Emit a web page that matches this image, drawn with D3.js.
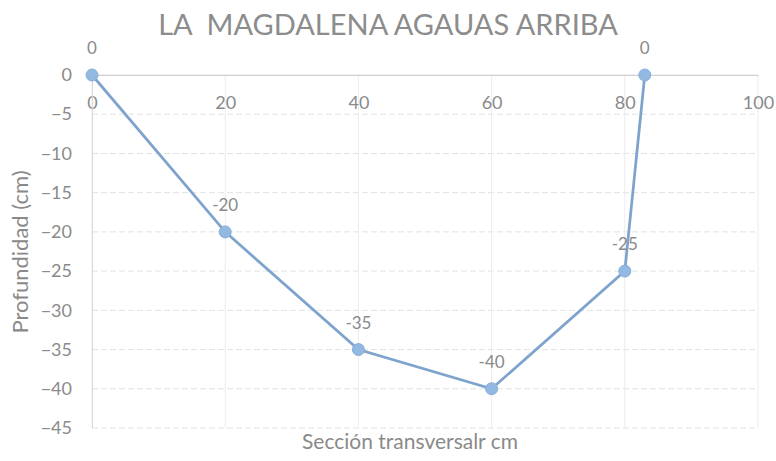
<!DOCTYPE html>
<html>
<head>
<meta charset="utf-8">
<script src="https://cdn.jsdelivr.net/npm/d3@7"></script>
<style>
  body { margin: 0; background: #fff; }
  svg { display: block; font-family: Lato, "Open Sans", sans-serif; }
</style>
</head>
<body>
<div id="chart"></div>
<script>
// seccion transversal (cm) y profundidad (cm)
const seccion = [0, 20, 40, 60, 80, 83];
const profundidad = [0, -20, -35, -40, -25, 0];
const xTicks = [0, 20, 40, 60, 80, 100];
const yTicks = [0, -5, -10, -15, -20, -25, -30, -35, -40, -45];

const width = 776;
const height = 461;
const margin = { top: 75, right: 18, bottom: 33, left: 92 };

const svg = d3.select("#chart")
    .append("svg")
    .attr("width", width)
    .attr("height", height);

const x = d3.scaleLinear().domain([0, 100]).range([margin.left, width - margin.right]);
const y = d3.scaleLinear().domain([0, -45]).range([margin.top, height - margin.bottom]);

const textColor = "#8a8a8a";

// cuadricula
svg.append("g")
    .selectAll("line")
    .data(yTicks)
    .enter().append("line")
    .attr("x1", x(0)).attr("x2", x(100))
    .attr("y1", d => y(d)).attr("y2", d => y(d))
    .attr("stroke", "#e2e2e2")
    .attr("stroke-dasharray", d => d === 0 ? null : "6,3");

svg.append("g")
    .selectAll("line")
    .data(xTicks)
    .enter().append("line")
    .attr("x1", d => x(d)).attr("x2", d => x(d))
    .attr("y1", y(0)).attr("y2", y(-45))
    .attr("stroke", "#ececec");

// eje X sobre y = 0, etiquetas debajo
const xAxis = svg.append("g")
    .attr("transform", `translate(0,${y(0)})`)
    .call(d3.axisBottom(x).tickValues(xTicks).tickSize(0).tickPadding(21));
xAxis.select(".domain").attr("stroke", "#d0d0d0");
xAxis.selectAll("text").attr("fill", textColor).style("font-size", "18px")
    .style("font-family", "Lato, 'Open Sans', sans-serif");

const yAxis = svg.append("g")
    .attr("transform", `translate(${x(0)},0)`)
    .call(d3.axisLeft(y).tickValues(yTicks).tickSize(0).tickPadding(20));
yAxis.select(".domain").attr("stroke", "#d8d8d8");
yAxis.selectAll("text").attr("fill", textColor).style("font-size", "18px")
    .style("font-family", "Lato, 'Open Sans', sans-serif");

// linea de la seccion
const puntos = seccion.map((s, i) => ({ s: s, p: profundidad[i] }));

svg.append("path")
    .datum(puntos)
    .attr("fill", "none")
    .attr("stroke", "#7ea3cc")
    .attr("stroke-width", 2.75)
    .attr("d", d3.line().x(d => x(d.s)).y(d => y(d.p)));

svg.selectAll(".punto")
    .data(puntos)
    .enter().append("circle")
    .attr("class", "punto")
    .attr("cx", d => x(d.s))
    .attr("cy", d => y(d.p))
    .attr("r", 6)
    .attr("fill", "#92b9e2")
    .attr("stroke", "#86aedb")
    .attr("stroke-width", 1);

svg.selectAll(".etiqueta")
    .data(puntos)
    .enter().append("text")
    .attr("class", "etiqueta")
    .attr("x", d => x(d.s))
    .attr("y", d => y(d.p) - 21)
    .attr("text-anchor", "middle")
    .attr("fill", textColor)
    .style("font-size", "17px")
    .text(d => d.p);

// titulos
svg.append("text")
    .attr("x", 388)
    .attr("y", 35)
    .attr("text-anchor", "middle")
    .attr("fill", "#8c8c8c")
    .style("font-size", "29px")
    .attr("xml:space", "preserve")
    .text("LA  MAGDALENA AGAUAS ARRIBA");

svg.append("text")
    .attr("x", 410)
    .attr("y", 449)
    .attr("text-anchor", "middle")
    .attr("fill", textColor)
    .style("font-size", "21px")
    .text("Sección transversalr cm");

svg.append("text")
    .attr("transform", `translate(28,252) rotate(-90)`)
    .attr("text-anchor", "middle")
    .attr("fill", textColor)
    .style("font-size", "22px")
    .text("Profundidad (cm)");
</script>
</body>
</html>
